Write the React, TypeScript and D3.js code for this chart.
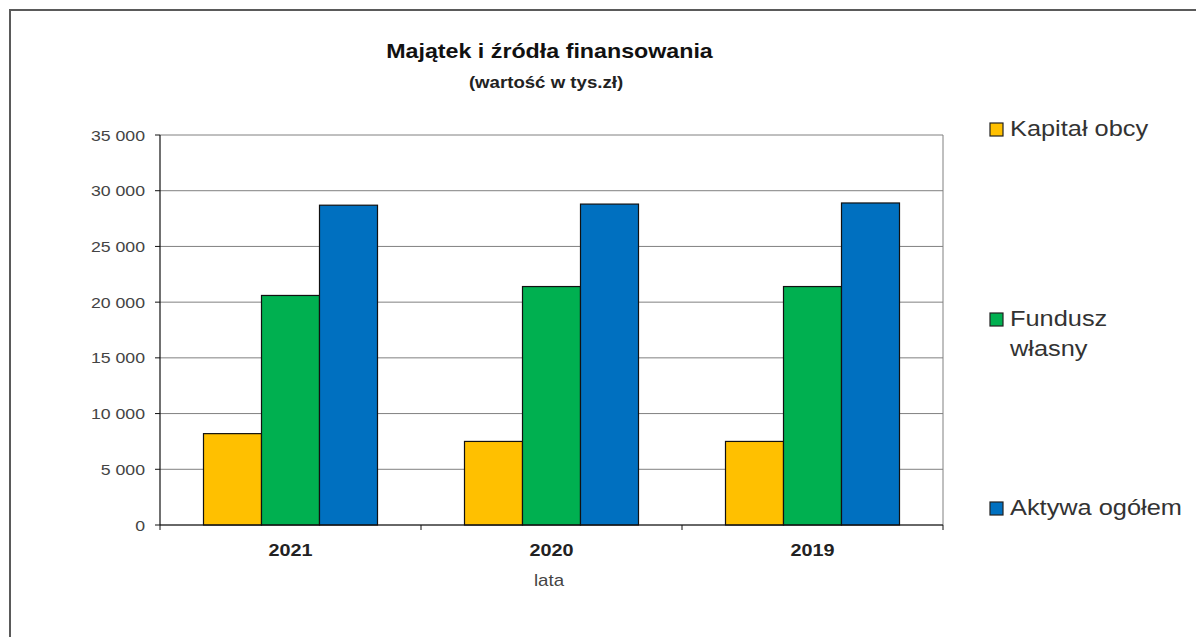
import React from "react";
import * as d3 from "d3";

const categories = ["2021", "2020", "2019"];
const seriesNames = ["Kapitał obcy", "Fundusz własny", "Aktywa ogółem"];
const kapitalObcy = [8200, 7500, 7500];
const funduszWlasny = [20600, 21400, 21400];
const aktywaOgolem = [28700, 28800, 28900];
const yTicks = [0, 5000, 10000, 15000, 20000, 25000, 30000, 35000];
const seriesColors = ["#FFC000", "#00B050", "#0070C0"];
const legendLines = [["Kapitał obcy"], ["Fundusz", "własny"], ["Aktywa ogółem"]];

const W = 1196;
const H = 637;
const FONT = "'Liberation Sans', Arial, sans-serif";
const SX = 1.18;

const T = ({ x, y, size, anchor = "start", weight = "normal", fill = "#222", children }: any) => (
  <g transform={`translate(${x},${y}) scale(${SX},1)`}>
    <text
      textAnchor={anchor}
      fontFamily={FONT}
      fontSize={size}
      fontWeight={weight}
      fill={fill}
    >
      {children}
    </text>
  </g>
);

export default function App() {
  const plot = { left: 160, right: 943, top: 135, bottom: 525 };
  const seriesValues = [kapitalObcy, funduszWlasny, aktywaOgolem];

  const x0 = d3.scaleBand<string>().domain(categories).range([plot.left, plot.right]).paddingInner(0).paddingOuter(0);
  const x1 = d3
    .scaleBand<string>()
    .domain(seriesNames)
    .range([0, x0.bandwidth()])
    .paddingInner(0)
    .paddingOuter(0.75);
  const y = d3.scaleLinear().domain([0, 35000]).range([plot.bottom, plot.top]);

  const locale = d3.formatLocale({ thousands: " ", grouping: [3], decimal: ",", currency: ["", " zł"] });
  const fmt = locale.format(",d");

  const boundaries = [...categories.map((c) => x0(c) as number), plot.right];

  const legendY = [136, 326, 515];

  return (
    <svg width={W} height={H} style={{ position: "absolute", left: 0, top: 0, background: "#fff" }}>
      <rect x={0} y={0} width={W} height={H} fill="#fff" />
      {/* outer chart border */}
      <rect x={10} y={10} width={1300} height={800} fill="none" stroke="#5a5a5a" strokeWidth={2} />

      {/* gridlines */}
      {yTicks.map((t) => (
        <line key={"g" + t} x1={plot.left} x2={plot.right} y1={y(t)} y2={y(t)} stroke="#808080" strokeWidth={1} />
      ))}
      {/* plot right border */}
      <line x1={plot.right} x2={plot.right} y1={plot.top} y2={plot.bottom} stroke="#808080" strokeWidth={1} />

      {/* bars */}
      {categories.map((c, ci) => (
        <g key={c} transform={`translate(${x0(c)},0)`}>
          {seriesNames.map((s, si) => {
            const v = seriesValues[si][ci];
            return (
              <rect
                key={s}
                x={x1(s)}
                y={y(v)}
                width={x1.bandwidth()}
                height={y(0) - y(v)}
                fill={seriesColors[si]}
                stroke="#111"
                strokeWidth={1.2}
              />
            );
          })}
        </g>
      ))}

      {/* y axis */}
      <line x1={plot.left} x2={plot.left} y1={plot.top} y2={plot.bottom} stroke="#111" strokeWidth={1.2} />
      {yTicks.map((t) => (
        <g key={"t" + t}>
          <line x1={plot.left - 5} x2={plot.left} y1={y(t)} y2={y(t)} stroke="#111" strokeWidth={1} />
          <T x={145} y={y(t) + 5.5} size={15} anchor="end" fill="#444">
            {fmt(t)}
          </T>
        </g>
      ))}

      {/* x axis */}
      <line x1={plot.left} x2={plot.right} y1={plot.bottom} y2={plot.bottom} stroke="#111" strokeWidth={1.2} />
      {boundaries.map((b, i) => (
        <line key={"xb" + i} x1={b} x2={b} y1={plot.bottom} y2={plot.bottom + 5} stroke="#111" strokeWidth={1} />
      ))}
      {categories.map((c) => (
        <T key={"cl" + c} x={(x0(c) as number) + x0.bandwidth() / 2} y={556} size={16.8} anchor="middle" weight="bold" fill="#222">
          {c}
        </T>
      ))}
      <T x={549} y={586} size={15.8} anchor="middle" fill="#444">
        lata
      </T>

      {/* title */}
      <T x={549.5} y={58} size={19.7} anchor="middle" weight="bold" fill="#111">
        Majątek i źródła finansowania
      </T>
      <T x={546} y={88} size={15.8} anchor="middle" weight="bold" fill="#222">
        (wartość w tys.zł)
      </T>

      {/* legend */}
      {seriesNames.map((s, i) => (
        <g key={"lg" + s}>
          <rect x={990} y={legendY[i] - 13} width={13} height={13} fill={seriesColors[i]} stroke="#222" strokeWidth={1.2} />
          {legendLines[i].map((line, li) => (
            <T key={li} x={1010} y={legendY[i] + li * 30} size={21.5} fill="#333">
              {line}
            </T>
          ))}
        </g>
      ))}
    </svg>
  );
}
